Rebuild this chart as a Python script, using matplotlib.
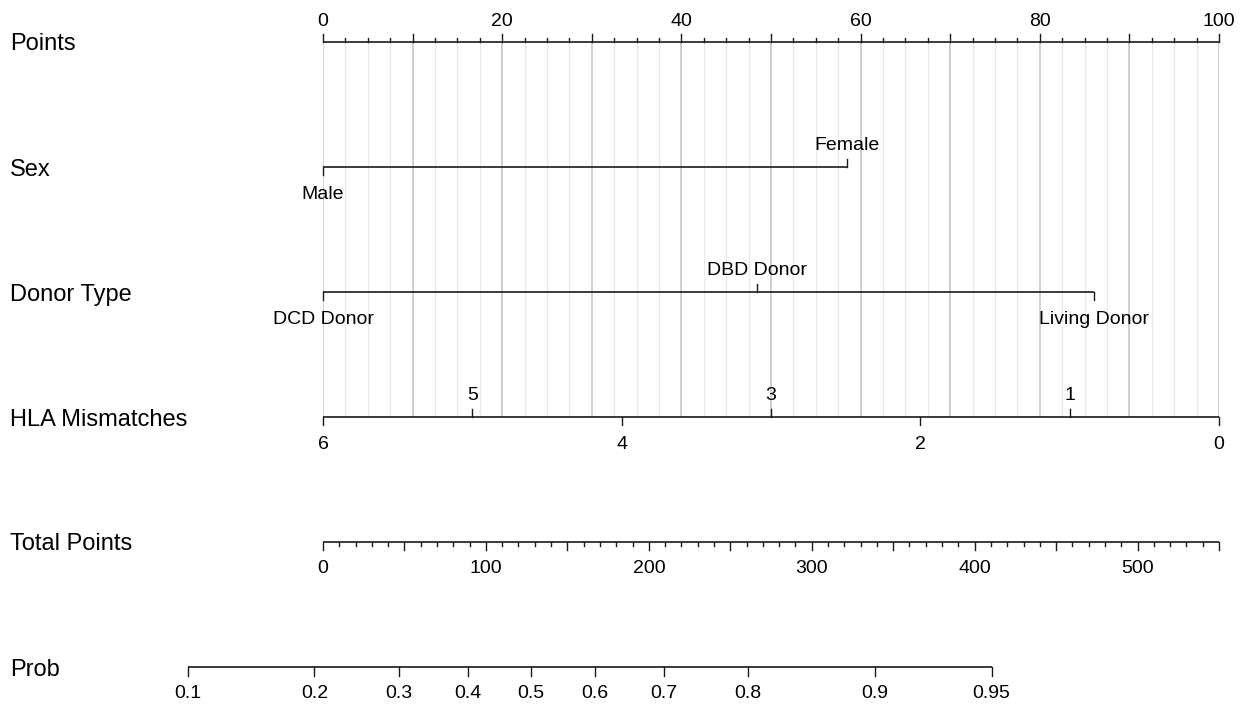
import numpy as np
import matplotlib
matplotlib.use("Agg")
import matplotlib.pyplot as plt
import matplotlib.transforms as mtransforms

plt.rcParams['font.family'] = ['Liberation Sans', 'DejaVu Sans']

# nomogram rows, top to bottom
row_names = ["Points", "Sex", "Donor Type", "HLA Mismatches", "Total Points", "Prob"]

# points per level of each predictor
sex_levels = ["Male", "Female"]
sex_points = [0, 58.5]

donor_levels = ["DCD Donor", "DBD Donor", "Living Donor"]
donor_points = [0, 48.4, 86.1]

hla_levels = ["6", "5", "4", "3", "2", "1", "0"]
hla_points = [0, 16.67, 33.33, 50, 66.67, 83.33, 100]

# total points scale and linear predictor -> probability
total_max = 550
prob_ticks = [0.1, 0.2, 0.3, 0.4, 0.5, 0.6, 0.7, 0.8, 0.9, 0.95]
lp_center = 127.8   # total points where logit = 0
lp_scale = 96.0     # total points per logit unit

W, H = 1256, 706
fig = plt.figure(figsize=(W / 100, H / 100), dpi=100)
ax = fig.add_axes([323 / W, 39 / H, 896 / W, 625 / H])
ax.set_xlim(0, 100)
ax.set_ylim(-5, 0)
ax.axis('off')

PX = 1 / 125  # one pixel in row units
LINE = '#1a1a1a'
FS = 14


def hline(y, x0, x1):
    ax.plot([x0, x1], [y, y], color=LINE, lw=1.2, solid_capstyle='butt', clip_on=False)


def tick(x, y, npx, up):
    d = npx * PX if up else -npx * PX
    ax.plot([x, x], [y, y + d], color=LINE, lw=1.0, clip_on=False)


def tlabel(x, y, s, up, off):
    ax.annotate(s, (x, y), xytext=(0, off * 0.72 if up else -off * 0.72),
                textcoords='offset points', ha='center', va='center',
                fontsize=FS, annotation_clip=False)


# background grid between the Points and HLA rows
for g in np.arange(0, 100.01, 2.5):
    major = abs(g % 10) < 1e-9
    ax.plot([g, g], [-3, 0], color='#c4c4c4' if major else '#e9e9e9',
            lw=1.1 if major else 0.9, zorder=0)

# Points
y = 0
hline(y, 0, 100)
for v in np.arange(0, 100.01, 2.5):
    major = abs(v % 10) < 1e-9
    tick(v, y, 8 if major else 4, True)
for v in range(0, 101, 20):
    tlabel(v, y, str(v), True, 20.5)


def level_row(y, levels, pts):
    hline(y, min(pts), max(pts))
    order = np.argsort(pts)
    for k, i in enumerate(order):
        up = k % 2 == 1
        tick(pts[i], y, 8, up)
        tlabel(pts[i], y, levels[i], up, 21.5 if up else 27.5)


level_row(-1, sex_levels, sex_points)
level_row(-2, donor_levels, donor_points)
level_row(-3, hla_levels, hla_points)

# Total Points
y = -4
to_pts = 100 / total_max
hline(y, 0, 100)
for v in range(0, total_max + 1, 10):
    tick(v * to_pts, y, 7.5 if v % 50 == 0 else 3.5, False)
for v in range(0, total_max, 100):
    tlabel(v * to_pts, y, str(v), False, 26.5)

# Prob
y = -5
p = np.array(prob_ticks)
prob_x = (lp_center + lp_scale * np.log(p / (1 - p))) * to_pts
hline(y, prob_x.min(), prob_x.max())
for xv, pv in zip(prob_x, prob_ticks):
    tick(xv, y, 9, False)
    tlabel(xv, y, f"{pv:g}", False, 26)

# row names on the left margin
trans = mtransforms.blended_transform_factory(fig.transFigure, ax.transData)
for i, name in enumerate(row_names):
    ax.text(10 / W, -i - 2.5 * PX, name, transform=trans, ha='left', va='center',
            fontsize=17, clip_on=False)

fig.savefig("out.png", dpi=100, facecolor='white')
